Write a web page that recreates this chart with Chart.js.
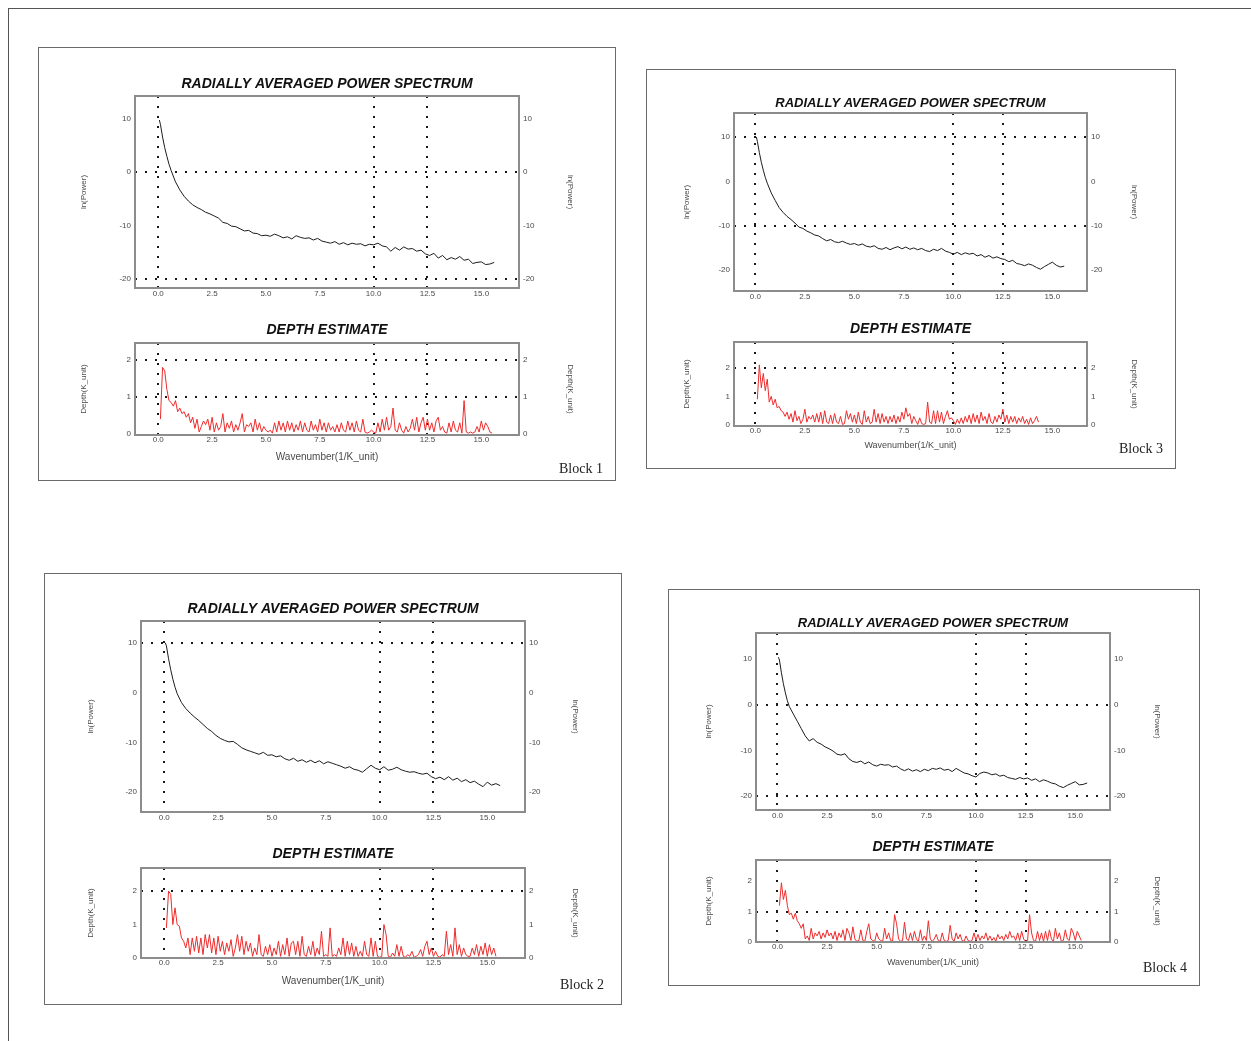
<!DOCTYPE html>
<html>
<head>
<meta charset="utf-8">
<script src="https://cdn.jsdelivr.net/npm/chart.js@4.4.1/dist/chart.umd.min.js"></script>
<style>
html, body { margin: 0; padding: 0; background: #fff; }
body { width: 1251px; height: 1041px; position: relative; overflow: hidden; }
.page { position: absolute; left: 8px; top: 8px; right: -2px; bottom: -2px; border-left: 1px solid #555; border-top: 1px solid #555; }
.frame { position: absolute; border: 1px solid #6a6a6a; box-sizing: border-box; }
.blk { position: absolute; font: 14px "Liberation Serif", "Times New Roman", serif; color: #222; transform: translate(-50%, -50%); white-space: nowrap; }
canvas { position: absolute; }
</style>
</head>
<body>
<div class="page"></div>
<script>
/* ------------------------------------------------------------
   DATA
------------------------------------------------------------- */
// wavenumber positions for the power spectrum curves
const kPow = [0.05, 0.1, 0.2, 0.3, 0.4, 0.5,
    0.6, 0.8, 1.0, 1.2, 1.4, 1.6, 1.8, 2.0, 2.2, 2.4,
    2.6, 2.8, 3.0, 3.2, 3.4, 3.6, 3.8, 4.0, 4.2, 4.4,
    4.6, 4.8, 5.0, 5.2, 5.4, 5.6, 5.8, 6.0, 6.2, 6.4,
    6.6, 6.8, 7.0, 7.2, 7.4, 7.6, 7.8, 8.0, 8.2, 8.4,
    8.6, 8.8, 9.0, 9.2, 9.4, 9.6, 9.8, 10.0, 10.2, 10.4,
    10.6, 10.8, 11.0, 11.2, 11.4, 11.6, 11.8, 12.0, 12.2, 12.4,
    12.6, 12.8, 13.0, 13.2, 13.4, 13.6, 13.8, 14.0, 14.2, 14.4,
    14.6, 14.8, 15.0, 15.2, 15.4, 15.6];

// wavenumber positions for the depth estimate curves
const kDep = [0.1, 0.2, 0.3, 0.4, 0.5, 0.6, 0.7, 0.8, 0.9, 1.0,
    1.1, 1.2, 1.3, 1.4, 1.5, 1.6, 1.7, 1.8, 1.9, 2.0,
    2.1, 2.2, 2.3, 2.4, 2.5, 2.6, 2.7, 2.8, 2.9, 3.0,
    3.1, 3.2, 3.3, 3.4, 3.5, 3.6, 3.7, 3.8, 3.9, 4.0,
    4.1, 4.2, 4.3, 4.4, 4.5, 4.6, 4.7, 4.8, 4.9, 5.0,
    5.1, 5.2, 5.3, 5.4, 5.5, 5.6, 5.7, 5.8, 5.9, 6.0,
    6.1, 6.2, 6.3, 6.4, 6.5, 6.6, 6.7, 6.8, 6.9, 7.0,
    7.1, 7.2, 7.3, 7.4, 7.5, 7.6, 7.7, 7.8, 7.9, 8.0,
    8.1, 8.2, 8.3, 8.4, 8.5, 8.6, 8.7, 8.8, 8.9, 9.0,
    9.1, 9.2, 9.3, 9.4, 9.5, 9.6, 9.7, 9.8, 9.9, 10.0,
    10.1, 10.2, 10.3, 10.4, 10.5, 10.6, 10.7, 10.8, 10.9, 11.0,
    11.1, 11.2, 11.3, 11.4, 11.5, 11.6, 11.7, 11.8, 11.9, 12.0,
    12.1, 12.2, 12.3, 12.4, 12.5, 12.6, 12.7, 12.8, 12.9, 13.0,
    13.1, 13.2, 13.3, 13.4, 13.5, 13.6, 13.7, 13.8, 13.9, 14.0,
    14.1, 14.2, 14.3, 14.4, 14.5, 14.6, 14.7, 14.8, 14.9, 15.0,
    15.1, 15.2, 15.3, 15.4, 15.5];

// ln(Power)
const pow1 = [9.8, 9.0, 6.6, 4.6, 3.0, 1.5,
    0.3, -1.8, -3.3, -4.5, -5.4, -6.1, -6.6, -7.0, -7.5, -7.8,
    -8.2, -8.6, -9.4, -9.6, -10.1, -10.2, -10.6, -11.0, -10.9, -11.4,
    -11.5, -11.9, -11.8, -12.0, -11.6, -11.9, -12.3, -12.1, -12.5, -11.9,
    -12.2, -12.4, -12.3, -12.7, -12.4, -12.9, -13.1, -13.3, -13.0, -13.5,
    -13.2, -13.6, -13.3, -13.5, -13.4, -13.8, -13.5, -13.6, -13.3, -13.8,
    -14.0, -14.8, -14.1, -14.6, -14.0, -14.4, -14.3, -14.8, -14.6, -15.3,
    -15.6, -15.2, -16.1, -15.6, -16.4, -16.0, -16.3, -15.8, -16.5, -16.3,
    -17.1, -16.9, -16.8, -17.3, -17.2, -16.9];

const pow2 = [10.0, 9.4, 6.8, 4.6, 2.7, 1.1,
    -0.2, -2.0, -3.2, -4.1, -4.9, -5.6, -6.4, -7.2, -7.8, -8.6,
    -9.2, -9.6, -9.9, -9.8, -10.4, -11.1, -11.5, -11.8, -12.1, -12.4,
    -12.0, -12.6, -12.5, -12.9, -12.7, -13.3, -13.6, -13.2, -13.8, -13.5,
    -14.0, -13.6, -14.1, -13.7, -14.3, -13.9, -14.2, -14.5, -14.8, -15.2,
    -14.9, -15.4, -15.6, -16.0, -15.3, -14.6, -15.2, -15.5, -14.9, -15.6,
    -15.4, -15.0, -15.5, -15.8, -16.0, -15.9, -16.2, -16.4, -16.2, -16.9,
    -17.3, -17.0, -17.5, -16.9, -17.6, -17.2, -17.9, -17.5, -18.1, -17.8,
    -18.4, -18.9, -18.0, -18.6, -18.3, -18.7];

const pow3 = [10.0, 9.0, 6.5, 4.3, 2.5, 0.9,
    -0.4, -2.6, -4.3, -5.9, -7.0, -7.9, -8.6, -9.4, -10.3, -10.6,
    -11.2, -11.6, -12.1, -12.3, -12.9, -13.4, -13.1, -13.6, -13.8, -13.5,
    -13.9, -14.2, -14.0, -14.4, -14.1, -14.6, -14.8, -14.5, -15.1, -15.3,
    -14.9, -15.4, -15.0, -14.7, -15.2, -14.8, -15.3, -15.0, -15.4, -15.1,
    -15.6, -15.8, -15.3, -15.6, -15.1, -15.7, -16.0, -16.4, -16.0, -16.5,
    -16.1, -16.4, -16.2, -16.8, -16.5, -17.1, -16.7, -17.3, -17.0, -17.4,
    -17.6, -18.1, -17.8, -18.5, -18.7, -19.0, -18.6, -18.9, -19.4, -19.8,
    -19.2, -18.7, -18.2, -18.9, -19.3, -19.1];

const pow4 = [10.4, 9.8, 7.0, 4.6, 2.6, 0.9,
    -0.4, -2.0, -3.6, -5.2, -6.8, -7.9, -7.4, -8.2, -8.6, -9.2,
    -9.6, -10.1, -10.8, -11.0, -10.7, -11.8, -12.4, -12.6, -12.3, -12.9,
    -12.5, -13.1, -13.4, -13.0, -13.2, -13.1, -13.6, -13.4, -14.0, -14.4,
    -14.0, -14.5, -14.2, -14.6, -14.1, -14.4, -13.9, -14.1, -13.8, -14.3,
    -14.1, -14.6, -13.9, -14.4, -14.9, -15.1, -15.5, -15.8, -15.0, -14.7,
    -14.9, -15.3, -15.1, -15.6, -15.4, -15.9, -16.1, -16.3, -15.9, -16.2,
    -16.0, -16.5, -16.2, -16.8, -16.4, -16.7, -17.1, -17.3, -17.8, -18.1,
    -17.6, -17.2, -16.8, -17.5, -17.4, -17.1];

// Depth(K_unit)
const dep1 = [0.4, 1.8, 1.7, 1.2, 0.9, 0.85, 0.75, 0.9, 0.6, 0.7,
    0.55, 0.6, 0.45, 0.55, 0.3, 0.45, 0.15, 0.4, 0.05, 0.2,
    0.35, 0.25, 0.4, 0.1, 0.45, 0.05, 0.3, 0.1, 0.2, 0.55,
    0.05, 0.3, 0.15, 0.35, 0.05, 0.25, 0.1, 0.3, 0.55, 0.05,
    0.25, 0.2, 0.3, 0.05, 0.4, 0.1, 0.3, 0.05, 0.2, 0.1,
    0.05, 0.1, 0.02, 0.3, 0.05, 0.35, 0.1, 0.3, 0.05, 0.35,
    0.1, 0.3, 0.05, 0.25, 0.1, 0.35, 0.05, 0.3, 0.1, 0.05,
    0.35, 0.1, 0.25, 0.05, 0.4, 0.1, 0.3, 0.05, 0.3, 0.1,
    0.2, 0.05, 0.25, 0.05, 0.3, 0.1, 0.05, 0.35, 0.1, 0.3,
    0.05, 0.35, 0.1, 0.05, 0.4, 0.05, 0.02, 0.05, 0.1, 0.05,
    0.02, 0.3, 0.05, 0.4, 0.1, 0.45, 0.1, 0.2, 0.7, 0.1,
    0.05, 0.3, 0.1, 0.02, 0.2, 0.05, 0.15, 0.4, 0.1, 0.45,
    0.05, 0.3, 0.45, 0.1, 0.4, 0.1, 0.3, 0.05, 0.35, 0.45,
    0.1, 0.2, 0.05, 0.02, 0.3, 0.05, 0.35, 0.1, 0.05, 0.3,
    0.02, 0.9, 0.05, 0.02, 0.05, 0.02, 0.05, 0.2, 0.05, 0.35,
    0.1, 0.3, 0.2, 0.05, 0.02];

const dep2 = [0.9, 2.0, 1.9, 1.0, 1.5, 1.0, 0.95, 0.6, 0.5, 0.3,
    0.6, 0.1, 0.6, 0.2, 0.65, 0.15, 0.6, 0.1, 0.7, 0.3,
    0.7, 0.15, 0.6, 0.1, 0.65, 0.2, 0.5, 0.1, 0.45, 0.2,
    0.55, 0.05, 0.3, 0.7, 0.2, 0.65, 0.1, 0.5, 0.2, 0.45,
    0.05, 0.3, 0.1, 0.7, 0.1, 0.05, 0.35, 0.1, 0.4, 0.05,
    0.3, 0.1, 0.5, 0.05, 0.4, 0.1, 0.6, 0.05, 0.45, 0.5,
    0.1, 0.5, 0.05, 0.65, 0.1, 0.05, 0.35, 0.1, 0.5, 0.05,
    0.3, 0.1, 0.8, 0.05, 0.1, 0.05, 0.9, 0.05, 0.1, 0.05,
    0.3, 0.1, 0.6, 0.05, 0.5, 0.1, 0.45, 0.05, 0.35, 0.05,
    0.2, 0.05, 0.5, 0.1, 0.05, 0.6, 0.05, 0.5, 0.05, 0.02,
    0.05, 1.0, 0.7, 0.05, 0.02, 0.15, 0.05, 0.4, 0.05, 0.35,
    0.05, 0.02, 0.1, 0.05, 0.2, 0.02, 0.05, 0.1, 0.25, 0.05,
    0.35, 0.5, 0.1, 0.3, 0.05, 0.2, 0.05, 0.02, 0.1, 0.05,
    0.8, 0.1, 0.4, 0.05, 0.9, 0.1, 0.4, 0.05, 0.3, 0.1,
    0.05, 0.05, 0.3, 0.1, 0.4, 0.05, 0.35, 0.1, 0.45, 0.05,
    0.4, 0.1, 0.3, 0.05];

const dep3 = [0.9, 2.1, 1.3, 1.8, 1.2, 1.6, 0.8, 1.0, 0.7, 0.9,
    0.6, 0.65, 0.5, 0.45, 0.3, 0.45, 0.2, 0.4, 0.1, 0.5,
    0.15, 0.3, 0.05, 0.2, 0.55, 0.1, 0.3, 0.2, 0.35, 0.1,
    0.4, 0.1, 0.45, 0.05, 0.5, 0.1, 0.05, 0.35, 0.05, 0.4,
    0.1, 0.05, 0.3, 0.02, 0.05, 0.5, 0.2, 0.4, 0.1, 0.35,
    0.05, 0.45, 0.1, 0.02, 0.5, 0.1, 0.3, 0.05, 0.1, 0.55,
    0.1, 0.4, 0.05, 0.4, 0.1, 0.3, 0.05, 0.3, 0.1, 0.35,
    0.05, 0.3, 0.1, 0.45, 0.2, 0.6, 0.3, 0.4, 0.05, 0.3,
    0.15, 0.02, 0.25, 0.05, 0.02, 0.05, 0.8, 0.1, 0.05, 0.5,
    0.05, 0.5, 0.1, 0.45, 0.05, 0.3, 0.5, 0.2, 0.25, 0.15,
    0.02, 0.2, 0.05, 0.25, 0.05, 0.3, 0.1, 0.35, 0.05, 0.4,
    0.1, 0.35, 0.05, 0.45, 0.15, 0.3, 0.05, 0.4, 0.1, 0.05,
    0.3, 0.1, 0.35, 0.2, 0.55, 0.1, 0.35, 0.05, 0.3, 0.1,
    0.3, 0.05, 0.25, 0.1, 0.3, 0.05, 0.2, 0.02, 0.25, 0.05,
    0.15, 0.3, 0.1];

const dep4 = [1.2, 1.95, 1.4, 1.7, 1.2, 0.9, 0.95, 0.75, 0.95, 0.7,
    0.6, 0.45, 0.6, 0.1, 0.2, 0.05, 0.45, 0.1, 0.3, 0.2,
    0.35, 0.1, 0.3, 0.15, 0.4, 0.2, 0.3, 0.1, 0.35, 0.05,
    0.3, 0.15, 0.4, 0.05, 0.45, 0.3, 0.05, 0.5, 0.1, 0.02,
    0.05, 0.4, 0.05, 0.02, 0.35, 0.6, 0.1, 0.05, 0.02, 0.3,
    0.1, 0.05, 0.02, 0.45, 0.1, 0.3, 0.05, 0.02, 0.9, 0.6,
    0.1, 0.02, 0.05, 0.65, 0.1, 0.05, 0.3, 0.05, 0.35, 0.1,
    0.02, 0.4, 0.05, 0.2, 0.05, 0.7, 0.1, 0.02, 0.1, 0.25,
    0.05, 0.02, 0.3, 0.05, 0.02, 0.05, 0.55, 0.1, 0.02, 0.3,
    0.1, 0.25, 0.05, 0.02, 0.2, 0.05, 0.02, 0.05, 0.3, 0.05,
    0.25, 0.05, 0.2, 0.1, 0.3, 0.05, 0.2, 0.05, 0.15, 0.02,
    0.25, 0.1, 0.2, 0.05, 0.25, 0.1, 0.35, 0.15, 0.2, 0.05,
    0.3, 0.05, 0.35, 0.1, 0.02, 0.05, 0.9, 0.3, 0.05, 0.02,
    0.35, 0.05, 0.3, 0.02, 0.35, 0.05, 0.4, 0.1, 0.02, 0.45,
    0.1, 0.3, 0.02, 0.05, 0.4, 0.1, 0.05, 0.45, 0.3, 0.05,
    0.35, 0.2, 0.05];

// tick labels
const xTicks = [0, 2.5, 5, 7.5, 10, 12.5, 15];
const powTicks = [-20, -10, 0, 10];
const depTicks = [0, 1, 2];


/* ------------------------------------------------------------
   LAYOUT (page pixels)
------------------------------------------------------------- */
const blocks = [
    { name: "Block 1", frame: [38, 47, 615, 480], label: [581, 469], axisW: 60,
      pow: { plot: [135, 96, 519, 288], y: [-21.7, 14.3], tf: 14, gap: 12, hGrid: [0, -20], data: pow1 },
      dep: { plot: [135, 343, 519, 435], y: [-0.03, 2.46], gap: 13, hGrid: [2, 1], data: dep1, xh: 28, xf: 10 } },
    { name: "Block 3", frame: [646, 69, 1175, 468], label: [1141, 449], axisW: 56,
      pow: { plot: [734, 113, 1087, 291], y: [-24.7, 15.4], tf: 13, gap: 10, hGrid: [10, -10], data: pow3 },
      dep: { plot: [734, 342, 1087, 426], y: [-0.035, 2.9], gap: 13, hGrid: [2], data: dep3, xh: 25, xf: 9 } },
    { name: "Block 2", frame: [44, 573, 621, 1004], label: [582, 985], axisW: 59,
      pow: { plot: [141, 621, 525, 812], y: [-24, 14.4], tf: 14, gap: 12, hGrid: [10], data: pow2 },
      dep: { plot: [141, 868, 525, 958], y: [0, 2.69], gap: 14, hGrid: [2], data: dep2, xh: 29, xf: 10 } },
    { name: "Block 4", frame: [668, 589, 1199, 985], label: [1165, 968], axisW: 56,
      pow: { plot: [756, 633, 1110, 810], y: [-23, 15.7], tf: 13, gap: 10, hGrid: [0, -20], data: pow4 },
      dep: { plot: [756, 860, 1110, 942], y: [0, 2.7], gap: 13, hGrid: [1], data: dep4, xh: 26, xf: 9 } }
];

const vGrid = [0, 10, 12.5];
const SANS = '"Liberation Sans", Arial, sans-serif';
const DOT = "#1a1a1a";
const TXT = "#4a4a4a";

// gray box round the plotting area
const plotFrame = {
    id: "plotFrame",
    afterDraw(chart) {
        const { ctx, chartArea: a } = chart;
        ctx.save();
        ctx.strokeStyle = "#8c8c8c";
        ctx.lineWidth = 2;
        ctx.strokeRect(a.left, a.top, a.right - a.left, a.bottom - a.top);
        ctx.restore();
    }
};

function yAxis(pos, part, ticks, w, title) {
    return {
        type: "linear",
        position: pos,
        min: part.y[0],
        max: part.y[1],
        afterBuildTicks: s => { s.ticks = ticks.map(v => ({ value: v })); },
        afterFit: s => { s.width = w; },
        grid: {
            display: pos === "left",
            drawTicks: false,
            lineWidth: 2,
            color: c => (c.tick && part.hGrid.includes(c.tick.value)) ? DOT : "transparent"
        },
        border: { display: false, dash: [2, 8] },
        ticks: { padding: 4, color: TXT, font: { size: 8, family: SANS }, callback: v => String(v) },
        title: { display: true, text: title, color: TXT, font: { size: 8, family: SANS }, padding: { top: 4, bottom: 4 } }
    };
}

function makeChart(b, part, isDepth) {
    const [L, T, R, B] = part.plot;
    const w = b.axisW;
    const xh = isDepth ? part.xh : 12;
    const cw = R - L + 2 * w;
    const ch = B - T + 24 + xh;

    const cv = document.createElement("canvas");
    cv.width = cw;
    cv.height = ch;
    cv.style.left = (L - w) + "px";
    cv.style.top = (T - 24) + "px";
    cv.style.width = cw + "px";
    cv.style.height = ch + "px";
    document.body.appendChild(cv);

    const tf = isDepth ? 14 : part.tf;
    const padB = part.gap - tf / 2;
    const padT = 24 - tf - padB;
    const xs = isDepth ? kDep : kPow;
    const yTitle = isDepth ? "Depth(K_unit)" : "ln(Power)";
    const ticks = isDepth ? depTicks : powTicks;

    new Chart(cv, {
        type: "line",
        data: {
            datasets: [{
                data: part.data.map((v, i) => ({ x: xs[i], y: v })),
                borderColor: isDepth ? "#ef2b2b" : "#1c1c1c",
                borderWidth: 1,
                pointRadius: 0,
                tension: 0,
                xAxisID: "x",
                yAxisID: "y"
            }]
        },
        options: {
            responsive: false,
            animation: false,
            events: [],
            layout: { padding: 0 },
            plugins: {
                legend: { display: false },
                tooltip: { enabled: false },
                title: {
                    display: true,
                    text: isDepth ? "DEPTH ESTIMATE" : "RADIALLY AVERAGED POWER SPECTRUM",
                    color: "#111",
                    font: { size: tf, weight: "bold", style: "italic", family: SANS, lineHeight: 1 },
                    padding: { top: padT, bottom: padB }
                }
            },
            scales: {
                x: {
                    type: "linear",
                    min: -1.08,
                    max: 16.75,
                    afterBuildTicks: s => { s.ticks = xTicks.map(v => ({ value: v })); },
                    afterFit: s => { s.height = xh; },
                    grid: {
                        drawTicks: false,
                        lineWidth: 2,
                        color: c => (c.tick && vGrid.includes(c.tick.value)) ? DOT : "transparent"
                    },
                    border: { display: false, dash: [2, 8] },
                    ticks: {
                        padding: isDepth ? 0 : 1,
                        color: TXT,
                        autoSkip: false,
                        maxRotation: 0,
                        font: { size: 8, family: SANS },
                        callback: v => v.toFixed(1)
                    },
                    title: {
                        display: isDepth,
                        text: "Wavenumber(1/K_unit)",
                        color: TXT,
                        font: { size: isDepth ? part.xf : 8, family: SANS },
                        padding: { top: 0, bottom: 0 }
                    }
                },
                y: yAxis("left", part, ticks, w, yTitle),
                y2: yAxis("right", part, ticks, w, yTitle)
            }
        },
        plugins: [plotFrame]
    });
}

blocks.forEach(b => {
    const [l, t, r, btm] = b.frame;
    const f = document.createElement("div");
    f.className = "frame";
    f.style.left = l + "px";
    f.style.top = t + "px";
    f.style.width = (r - l + 1) + "px";
    f.style.height = (btm - t + 1) + "px";
    document.body.appendChild(f);

    makeChart(b, b.pow, false);
    makeChart(b, b.dep, true);

    const lab = document.createElement("div");
    lab.className = "blk";
    lab.textContent = b.name;
    lab.style.left = b.label[0] + "px";
    lab.style.top = b.label[1] + "px";
    document.body.appendChild(lab);
});
</script>
</body>
</html>
